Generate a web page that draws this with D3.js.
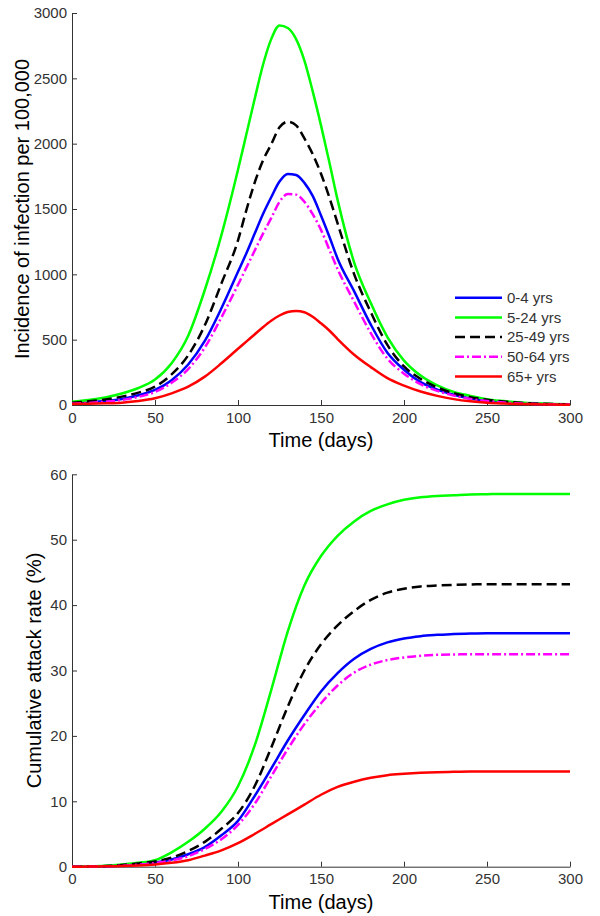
<!DOCTYPE html>
<html>
<head>
<meta charset="utf-8">
<script src="https://cdn.jsdelivr.net/npm/d3@7"></script>
<style>
  html, body { margin: 0; padding: 0; background: #fff; }
  svg { display: block; font-family: "Liberation Sans", Arial, sans-serif; }
</style>
</head>
<body>
<svg id="chart" width="600" height="916"></svg>
<script>
// ---------- DATA ----------
const groups = ["0-4 yrs", "5-24 yrs", "25-49 yrs", "50-64 yrs", "65+ yrs"];

// Incidence of infection per 100,000 (sampled days)
const daysInc = [0,10,20,30,40,50,60,70,80,90,100,105,110,115,120,125,130,135,140,145,150,155,160,170,180,190,200,210,220,230,240,250,260,270,280,290,300];
const inc0_4   = [13,20,30,46,75,115,190,310,490,740,1020,1160,1310,1460,1590,1710,1768,1760,1700,1600,1450,1290,1120,870,615,400,270,175,118,78,50,32,20,13,8,5,3];
const inc5_24  = [25,38,58,88,130,195,320,530,880,1300,1800,2070,2340,2600,2800,2905,2885,2800,2635,2400,2140,1860,1570,1090,780,520,340,225,150,100,70,45,30,20,13,8,5];
const inc25_49 = [18,28,42,64,95,140,235,380,610,930,1260,1490,1700,1870,1995,2125,2168,2140,2040,1920,1770,1590,1390,1000,710,460,295,200,135,90,60,40,26,17,11,7,5];
const inc50_64 = [10,16,25,38,62,100,170,275,440,670,920,1050,1180,1310,1430,1555,1615,1610,1555,1460,1340,1190,1040,790,550,355,240,160,108,72,47,30,19,12,8,5,3];
const inc65    = [8,10,13,18,30,51,89,140,217,319,430,485,540,595,645,685,712,720,710,675,625,570,505,385,290,205,148,103,70,45,28,17,11,7,5,3,2];

// Cumulative attack rate (%)
const daysCum = [0,10,20,30,40,50,60,70,80,90,100,110,120,130,140,150,160,170,180,190,200,210,220,230,240,250,260,270,280,290,300];
const cum0_4   = [0,0.03,0.08,0.2,0.4,0.65,1.1,1.9,3.0,4.8,7.0,10.8,15.0,19.3,23.2,26.8,29.6,31.8,33.3,34.3,34.9,35.25,35.45,35.6,35.65,35.7,35.7,35.7,35.7,35.7,35.7];
const cum5_24  = [0,0.05,0.15,0.35,0.6,1.0,2.2,3.8,5.8,8.4,12.3,18.5,27.0,36.0,43.0,47.5,50.6,52.8,54.4,55.4,56.1,56.5,56.7,56.8,56.9,56.95,57,57,57,57,57];
const cum25_49 = [0,0.03,0.1,0.25,0.5,0.8,1.4,2.4,3.8,5.8,8.2,12.3,18.2,24.5,30.0,34.0,36.9,39.1,40.8,41.9,42.5,42.85,43.0,43.1,43.15,43.2,43.2,43.2,43.2,43.2,43.2];
const cum50_64 = [0,0.02,0.06,0.15,0.3,0.55,0.95,1.6,2.7,4.2,6.4,9.6,13.8,18.0,21.8,25.0,27.7,29.7,30.9,31.6,32.0,32.25,32.4,32.45,32.5,32.5,32.5,32.5,32.5,32.5,32.5];
const cum65    = [0,0.02,0.05,0.1,0.2,0.35,0.6,1.0,1.7,2.5,3.6,5.0,6.5,8.0,9.5,11.0,12.2,13.0,13.6,14.0,14.2,14.35,14.45,14.5,14.55,14.55,14.55,14.55,14.55,14.55,14.55];

const xTicks = [0,50,100,150,200,250,300];
const yTicksTop = [0,500,1000,1500,2000,2500,3000];
const yTicksBottom = [0,10,20,30,40,50,60];

// ---------- STYLE ----------
const styles = [
  { color: "#0000ff", dash: null },
  { color: "#00ff00", dash: null },
  { color: "#000000", dash: "10,5" },
  { color: "#ff00ff", dash: "9,3,2,3" },
  { color: "#ff0000", dash: null }
];

const svg = d3.select("#chart");

function panel(cfg) {
  const x = d3.scaleLinear().domain([0, 300]).range([72, 570]);
  const y = d3.scaleLinear().domain(cfg.ydomain).range([cfg.bottom, cfg.top]);
  const g = svg.append("g");

  const xAxis = d3.axisBottom(x).tickValues(xTicks).tickFormat(d3.format("d"))
    .tickSizeInner(-5).tickSizeOuter(0).tickPadding(7);
  const yAxis = d3.axisLeft(y).tickValues(cfg.yticks).tickFormat(d3.format("d"))
    .tickSizeInner(-5).tickSizeOuter(0).tickPadding(5);

  const gx = g.append("g").attr("transform", `translate(0,${cfg.bottom})`).call(xAxis);
  const gy = g.append("g").attr("transform", `translate(72,0)`).call(yAxis);
  [gx, gy].forEach(a => {
    a.select(".domain").attr("stroke", "#333").attr("stroke-width", 1);
    a.selectAll(".tick line").attr("stroke", "#333");
    a.selectAll(".tick text").attr("fill", "#333").style("font-size", "15px")
      .style("font-family", "'Liberation Sans', Arial, sans-serif");
  });

  const line = d3.line()
    .x((d, i) => x(cfg.days[i]))
    .y(d => y(d))
    .curve(d3.curveMonotoneX);

  cfg.series.forEach((s, k) => {
    g.append("path")
      .datum(s)
      .attr("d", line)
      .attr("fill", "none")
      .attr("stroke", styles[k].color)
      .attr("stroke-width", 2.5)
      .attr("stroke-linejoin", "round")
      .attr("stroke-dasharray", styles[k].dash);
  });

  g.append("text")
    .attr("x", 321).attr("y", cfg.bottom + 42)
    .attr("text-anchor", "middle")
    .style("font-size", "20px").attr("fill", "#000")
    .text("Time (days)");

  g.append("text")
    .attr("transform", `translate(${cfg.ylabelX},${(cfg.top + cfg.bottom) / 2}) rotate(-90)`)
    .attr("text-anchor", "middle")
    .style("font-size", "20px").attr("fill", "#000")
    .text(cfg.ylabel);
  return { x, y, g };
}

const topPanel = panel({
  ydomain: [0, 3000], top: 13, bottom: 405, yticks: yTicksTop,
  days: daysInc,
  series: [inc0_4, inc5_24, inc25_49, inc50_64, inc65],
  ylabel: "Incidence of infection per 100,000", ylabelX: 29
});

const bottomPanel = panel({
  ydomain: [0, 60], top: 474.3, bottom: 866.7, yticks: yTicksBottom,
  days: daysCum,
  series: [cum0_4, cum5_24, cum25_49, cum50_64, cum65],
  ylabel: "Cumulative attack rate (%)", ylabelX: 41
});

// Legend (top panel)
const leg = svg.append("g");
groups.forEach((name, k) => {
  const yy = 297.7 + k * 19.7;
  leg.append("line")
    .attr("x1", 455).attr("x2", 502).attr("y1", yy).attr("y2", yy)
    .attr("stroke", styles[k].color).attr("stroke-width", 2.5)
    .attr("stroke-dasharray", styles[k].dash);
  leg.append("text")
    .attr("x", 507).attr("y", yy).attr("dy", "0.35em")
    .style("font-size", "15px").attr("fill", "#333")
    .text(name);
});
</script>
</body>
</html>
